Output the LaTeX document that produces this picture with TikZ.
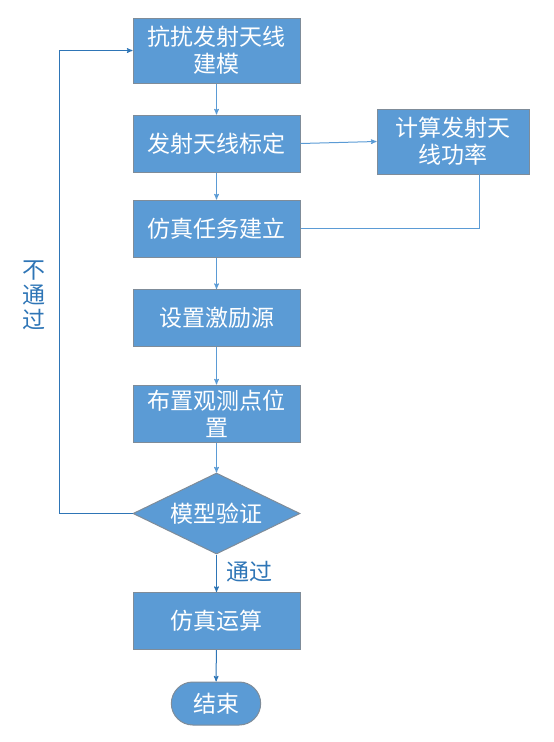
\documentclass[tikz,border=0pt]{standalone}
\usepackage{fontspec}
\setmainfont{Noto Sans CJK SC}
\usetikzlibrary{%
  arrows,%
  shapes,%
  shapes.geometric,% wg. diamond
  shapes.misc,% wg. rounded rectangle
  positioning,%
  calc
}
\definecolor{boxblue}{HTML}{5B9BD5}
\definecolor{linkblue}{HTML}{2E75B6}
\definecolor{rimgray}{HTML}{7F8C99}

\begin{document}
\begin{tikzpicture}[
  x=1pt, y=-1pt,
  font=\fontsize{23}{27}\selectfont,
  >=stealth',
  line width=1pt,
  stepbox/.style={rectangle, minimum width=167pt, minimum height=57pt, inner sep=2pt, draw=rimgray, fill=boxblue, text=white, align=center, line width=1pt},
  check/.style={diamond, aspect=2.06, minimum width=167pt, minimum height=81pt, inner sep=0pt, draw=rimgray, fill=boxblue, text=white, line width=1pt},
  terminal/.style={rounded rectangle, minimum width=96pt, minimum height=43pt, draw=rimgray, fill=boxblue, text=white, line width=1pt},
  link/.style={draw=boxblue, line width=1pt},
  loopback/.style={draw=linkblue, line width=1pt},
  note/.style={text=linkblue}
]
\useasboundingbox (0,0) rectangle (554,742);

\node[stepbox, minimum height=65pt] (model) at (216.5,50.5) {抗扰发射天线\\建模};
\node[stepbox] (calib) at (216.5,143.5) {发射天线标定};
\node[stepbox, minimum width=152pt, minimum height=65pt] (power) at (453,141.5) {计算发射天\\线功率};
\node[stepbox] (task) at (216.5,228.5) {仿真任务建立};
\node[stepbox] (source) at (216.5,318) {设置激励源};
\node[stepbox] (probe) at (216.5,413.5) {布置观测点位\\置};
\node[check] (verify) at (216.5,513.5) {模型验证};
\node[stepbox] (run) at (216.5,621) {仿真运算};
\node[terminal] (finish) at (216,703.5) {结束};

\coordinate (loop) at (59,513.5);
\coordinate (pwrout) at (479,174);

\draw[link,->] (model) -- (calib);
\draw[link,->] (calib) -- (task);
\draw[link,->] (calib.east) -- (power.west);
\draw[link] (pwrout) |- (task.east);
\draw[link,->] (task) -- (source);
\draw[link,->] (source) -- (probe);
\draw[link,->] (probe) -- (verify);
\draw[loopback,->] (verify) -- node[note, right=6pt, pos=0.45] (pass) {通过} (run);
\draw[loopback,->] (run) -- (finish);
\draw[loopback,->] (verify.west) -- (loop) |- (model.west);

\node[note, align=center, font=\fontsize{23}{25}\selectfont] (fail) at (34,295) {不\\通\\过};

\end{tikzpicture}
\end{document}
